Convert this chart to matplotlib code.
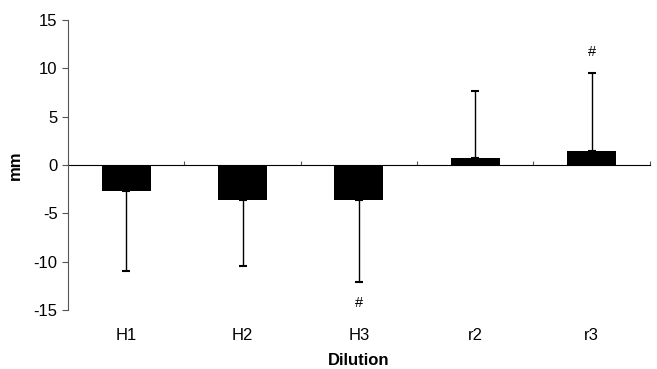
import numpy as np
import matplotlib
matplotlib.use("Agg")
import matplotlib.pyplot as plt

plt.rcParams["font.family"] = ["Liberation Sans", "DejaVu Sans"]
plt.rcParams["axes.unicode_minus"] = False

categories = ["H1", "H2", "H3", "r2", "r3"]
means = [-2.7, -3.6, -3.6, 0.7, 1.4]
errors = [8.3, 6.9, 8.5, 6.95, 8.15]
marked = ["H3", "r3"]

x = np.arange(len(categories))
fig = plt.figure(figsize=(6.57, 3.69), dpi=100)
ax = fig.add_axes([0.1035, 0.16, 0.8855, 0.786])

lower = [e if m < 0 else 0 for m, e in zip(means, errors)]
upper = [e if m >= 0 else 0 for m, e in zip(means, errors)]
ax.bar(x, means, width=0.42, color="black", zorder=2)
ax.errorbar(x, means, yerr=[lower, upper], fmt="none", ecolor="black",
            elinewidth=1.0, capsize=3, capthick=1.5, zorder=1)

for i, cat in enumerate(categories):
    if cat in marked:
        end = means[i] - errors[i] if means[i] < 0 else means[i] + errors[i]
        off = -15 if means[i] < 0 else 15
        ax.annotate("#", (x[i], end), xytext=(0, off), textcoords="offset points",
                    ha="center", va="center", fontsize=10.5)

ax.set_xlim(-0.5, len(categories) - 0.5)
ax.set_ylim(-15, 15)
ax.set_yticks(np.arange(-15, 16, 5))
ax.tick_params(axis="y", direction="out", length=4, width=0.8, labelsize=12,
               color="#555555")
ax.set_ylabel("mm", fontsize=12, fontweight="bold", labelpad=8)

ax.set_xticks(x, categories)
ax.tick_params(axis="x", length=0, pad=13, labelsize=12)
ax.set_xlabel("Dilution", fontsize=12, fontweight="bold", labelpad=7)

for side in ("top", "right", "bottom"):
    ax.spines[side].set_visible(False)
ax.spines["left"].set_color("#555555")
ax.spines["left"].set_linewidth(0.8)

zero = ax.secondary_xaxis(0.5)
zero.set_xticks(np.arange(len(categories) + 1) - 0.5)
zero.tick_params(direction="out", length=3, width=0.8, color="#555555",
                 labelbottom=False, labeltop=False)
zero.spines["bottom"].set_color("#555555")
zero.spines["bottom"].set_linewidth(0.9)

fig.savefig("out.png", dpi=100)
